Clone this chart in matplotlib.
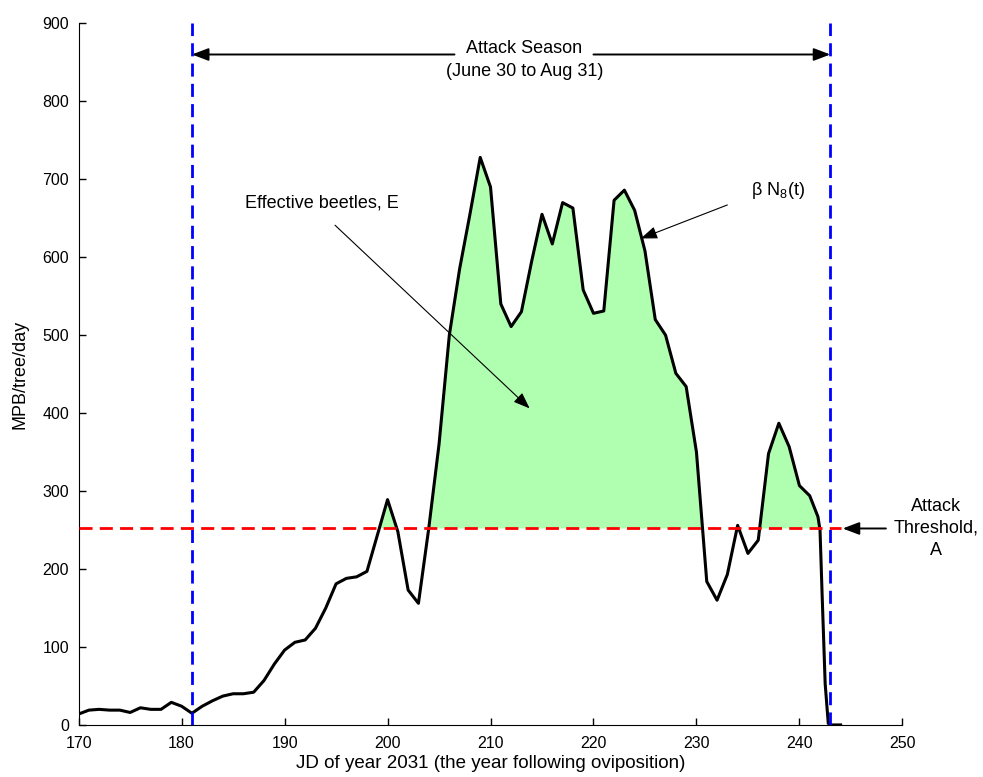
import numpy as np
import matplotlib
matplotlib.use("Agg")
import matplotlib.pyplot as plt

plt.rcParams['font.family'] = ['Liberation Sans', 'DejaVu Sans']
plt.rcParams['mathtext.fontset'] = 'custom'
plt.rcParams['mathtext.rm'] = 'Liberation Sans'

# Julian day and effective beetle emergence rate (MPB/tree/day)
days = [170, 171, 172, 173, 174, 175, 176, 177, 178, 179, 180, 181, 182, 183,
        184, 185, 186, 187, 188, 189, 190, 191, 192, 193, 194, 195, 196, 197,
        198, 199, 200, 201, 202, 203, 204, 205, 206, 207, 208, 209, 210, 211,
        212, 213, 214, 215, 216, 217, 218, 219, 220, 221, 222, 223, 224, 225,
        226, 227, 228, 229, 230, 231, 232, 233, 234, 235, 236, 237, 238, 239,
        240, 241, 241.8, 242, 242.2, 242.5, 242.8, 243, 244]
rate = [14, 19, 20, 19, 19, 16, 22, 20, 20, 29, 24, 15, 24, 31,
        37, 40, 40, 42, 57, 78, 96, 106, 109, 124, 150, 181, 188, 190,
        197, 243, 289, 248, 173, 156, 252, 360, 500, 585, 655, 728, 690, 540,
        511, 530, 595, 655, 617, 670, 663, 558, 528, 531, 673, 686, 660, 608,
        520, 500, 451, 434, 350, 184, 160, 193, 256, 220, 237, 348, 387, 357,
        307, 294, 267, 250, 169, 53, 2, 0, 0]

threshold = 252          # attack threshold A
season_start = 181       # June 30
season_end = 243         # Aug 31
threshold_end = 244

x = np.array(days, dtype=float)
y = np.array(rate, dtype=float)

fig = plt.figure(figsize=(9.83, 7.77), dpi=100)
ax = fig.add_axes([0.080, 0.067, 0.838, 0.903])

in_season = (x >= season_start) & (x <= season_end)
ax.fill_between(x, y, threshold, where=(y > threshold) & in_season,
                interpolate=True, facecolor='#b0ffb0', edgecolor='none', zorder=1)
ax.plot(x, y, color='black', lw=2.2, zorder=3)

ax.plot([days[0], threshold_end], [threshold, threshold], color='#ff0000',
        lw=2, dashes=(4.7, 2.6), zorder=4)
for d in (season_start, season_end):
    ax.plot([d, d], [0, 900], color='#0000ff', lw=2, dashes=(4.7, 2.6), zorder=5)

ax.set_xlim(170, 250)
ax.set_ylim(0, 900)
ax.set_xticks(np.arange(170, 251, 10))
ax.set_yticks(np.arange(0, 901, 100))
ax.tick_params(direction='in', length=5, width=1, labelsize=11.5)
ax.tick_params(axis='x', pad=8)
ax.tick_params(axis='y', pad=7)
for s in ('top', 'right'):
    ax.spines[s].set_visible(False)
ax.set_xlabel('JD of year 2031 (the year following oviposition)', fontsize=13.5, labelpad=3)
ax.set_ylabel('MPB/tree/day', fontsize=13, labelpad=10)

arrow_kw = dict(arrowstyle='-|>,head_length=1.0,head_width=0.38', color='black',
                lw=1.4, shrinkA=0, shrinkB=0)
thin_kw = dict(arrowstyle='-|>,head_length=1.0,head_width=0.38', color='black',
               lw=0.8, shrinkA=0, shrinkB=0)

# Attack season span
ax.annotate('', xy=(season_start, 860), xytext=(206.5, 860),
            arrowprops=arrow_kw, zorder=6)
ax.annotate('', xy=(season_end, 860), xytext=(220.0, 860),
            arrowprops=arrow_kw, zorder=6)
ax.text(213.3, 853, 'Attack Season\n(June 30 to Aug 31)', ha='center', va='center',
        fontsize=13, linespacing=1.45)

# Effective beetles
ax.text(193.6, 669, 'Effective beetles, E', ha='center', va='center', fontsize=13)
ax.annotate('', xy=(213.8, 406), xytext=(194.9, 641),
            arrowprops=thin_kw, zorder=6)

# beta N8(t)
ax.text(237.9, 686, r'β N$_{\mathrm{8}}$(t)', ha='center', va='center', fontsize=13)
ax.annotate('', xy=(224.6, 624), xytext=(233.0, 667),
            arrowprops=thin_kw, zorder=6)

# Attack threshold
ax.text(253.3, threshold, 'Attack\nThreshold,\nA', ha='center', va='center',
        fontsize=13, linespacing=1.35, clip_on=False)
ax.annotate('', xy=(244.2, threshold), xytext=(248.4, threshold),
            arrowprops=arrow_kw, annotation_clip=False, zorder=6)

fig.savefig('out.png', dpi=100)
